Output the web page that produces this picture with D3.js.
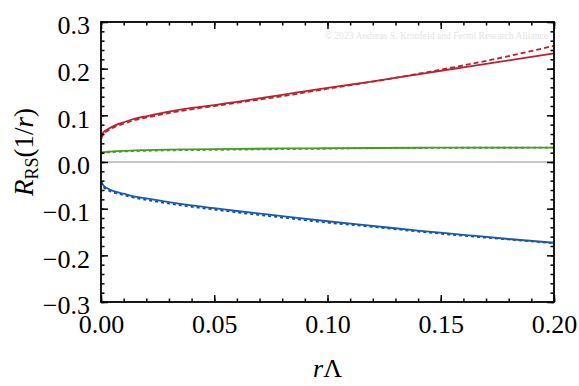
<!DOCTYPE html>
<html>
<head>
<meta charset="utf-8">
<script src="https://cdn.jsdelivr.net/npm/d3@7"></script>
<style>
  body { margin: 0; background: #fff; }
  svg text { font-family: "Liberation Serif", "DejaVu Serif", serif; }
</style>
</head>
<body>
<div id="chart"></div>
<script>
const W = 579, H = 386;
const margin = { top: 22, right: 25, bottom: 84, left: 101 },
  width = W - margin.left - margin.right,
  height = H - margin.top - margin.bottom;

// r*Lambda sample points
const rVals = [0, 0.001, 0.003, 0.006, 0.01, 0.015, 0.02, 0.03, 0.04, 0.05, 0.06, 0.08, 0.10, 0.12, 0.14, 0.16, 0.18, 0.20];

const redSolid = [0.052, 0.063, 0.070, 0.078, 0.085, 0.093, 0.098, 0.108, 0.116, 0.122, 0.129, 0.144, 0.159, 0.173, 0.188, 0.203, 0.218, 0.233];
const redDash = [0.049, 0.060, 0.067, 0.075, 0.082, 0.090, 0.095, 0.105, 0.113, 0.120, 0.127, 0.141, 0.157, 0.172, 0.189, 0.207, 0.227, 0.249];

const greenSolid = [0.019, 0.021, 0.022, 0.023, 0.024, 0.025, 0.0255, 0.0265, 0.027, 0.0275, 0.028, 0.029, 0.0295, 0.030, 0.0305, 0.031, 0.031, 0.031];
const greenDash = [0.018, 0.0195, 0.0205, 0.0215, 0.0225, 0.0235, 0.024, 0.025, 0.0255, 0.026, 0.0265, 0.0275, 0.0285, 0.0295, 0.030, 0.0305, 0.0305, 0.031];

const blueSolid = [-0.040, -0.050, -0.057, -0.063, -0.068, -0.074, -0.078, -0.086, -0.093, -0.099, -0.105, -0.116, -0.127, -0.137, -0.147, -0.156, -0.165, -0.173];
const blueDash = [-0.042, -0.053, -0.060, -0.066, -0.071, -0.077, -0.081, -0.089, -0.096, -0.102, -0.108, -0.119, -0.130, -0.139, -0.149, -0.158, -0.166, -0.174];

const xTicks = [0, 0.05, 0.10, 0.15, 0.20];
const yTicks = [-0.3, -0.2, -0.1, 0.0, 0.1, 0.2, 0.3];

const svg = d3.select("#chart").append("svg")
  .attr("width", W).attr("height", H);

const g = svg.append("g")
  .attr("transform", `translate(${margin.left}, ${margin.top})`);

const x = d3.scaleLinear().domain([0, 0.2]).range([0, width]);
const y = d3.scaleLinear().domain([-0.3, 0.3]).range([height, 0]);

// watermark
g.append("text")
  .attr("x", width - 6).attr("y", 17)
  .attr("text-anchor", "end")
  .style("font-size", "9.6px")
  .attr("fill", "#e4e4e4")
  .text("© 2023 Andreas S. Kronfeld and Fermi Research Alliance");

// zero line
g.append("line")
  .attr("x1", 0).attr("x2", width)
  .attr("y1", y(0)).attr("y2", y(0))
  .attr("stroke", "#b4b4b4").attr("stroke-width", 1.3);

const line = (vals) => d3.line()
  .x((d, i) => x(rVals[i]))
  .y((d) => y(d))
  .curve(d3.curveMonotoneX)(vals);

const series = [
  { vals: redDash, color: "#b8232f", dash: "5,3" },
  { vals: redSolid, color: "#b8232f", dash: null },
  { vals: greenDash, color: "#4a9a26", dash: "3,3" },
  { vals: greenSolid, color: "#4a9a26", dash: null },
  { vals: blueDash, color: "#0f4f9e", dash: "3,3" },
  { vals: blueSolid, color: "#1a5aa8", dash: null },
];

g.selectAll("path.curve")
  .data(series)
  .join("path")
  .attr("class", "curve")
  .attr("d", (d) => line(d.vals))
  .attr("fill", "none")
  .attr("stroke", (d) => d.color)
  .attr("stroke-width", 1.8)
  .attr("stroke-dasharray", (d) => d.dash);

// ticks on all sides, pointing inward
const xMinor = d3.range(0, 0.2001, 0.01);
const yMinor = d3.range(-0.3, 0.3001, 0.02);

const tickStyle = (sel) => {
  sel.attr("font-family", null).attr("font-size", null);
  sel.select(".domain").remove();
  sel.selectAll(".tick line").attr("stroke", "#000").attr("stroke-width", 1.5);
};

g.append("g").attr("transform", `translate(0,${height})`)
  .call(d3.axisBottom(x).tickValues(xMinor).tickSize(-3.5).tickFormat(""))
  .call(tickStyle);
g.append("g")
  .call(d3.axisTop(x).tickValues(xMinor).tickSize(-3.5).tickFormat(""))
  .call(tickStyle);
g.append("g")
  .call(d3.axisLeft(y).tickValues(yMinor).tickSize(-3.5).tickFormat(""))
  .call(tickStyle);
g.append("g").attr("transform", `translate(${width},0)`)
  .call(d3.axisRight(y).tickValues(yMinor).tickSize(-3.5).tickFormat(""))
  .call(tickStyle);

const xAxis = g.append("g").attr("transform", `translate(0,${height})`)
  .call(d3.axisBottom(x).tickValues(xTicks).tickSize(-7).tickPadding(13).tickFormat(d3.format(".2f")))
  .call(tickStyle);
g.append("g")
  .call(d3.axisTop(x).tickValues(xTicks).tickSize(-7).tickFormat(""))
  .call(tickStyle);
const yAxis = g.append("g")
  .call(d3.axisLeft(y).tickValues(yTicks).tickSize(-7).tickPadding(11).tickFormat(d3.format(".1f")))
  .call(tickStyle);
g.append("g").attr("transform", `translate(${width},0)`)
  .call(d3.axisRight(y).tickValues(yTicks).tickSize(-7).tickFormat(""))
  .call(tickStyle);

[xAxis, yAxis].forEach((a) => a.selectAll(".tick text")
  .style("font-size", "26px")
  .attr("fill", "#000"));
yAxis.selectAll(".tick text").attr("dy", "0.45em");

// frame
g.append("rect")
  .attr("width", width).attr("height", height)
  .attr("fill", "none").attr("stroke", "#000").attr("stroke-width", 1.8);

// axis titles
const xt = svg.append("text")
  .attr("x", margin.left + width / 2).attr("y", 377)
  .attr("text-anchor", "middle")
  .style("font-size", "26px");
xt.append("tspan").attr("font-style", "italic").text("r");
xt.append("tspan").text("Λ");

const yt = svg.append("text")
  .attr("transform", `translate(33, ${margin.top + height / 2 - 10}) rotate(-90)`)
  .attr("text-anchor", "middle")
  .style("font-size", "27px");
yt.append("tspan").attr("font-style", "italic").text("R");
yt.append("tspan").style("font-size", "18px").attr("dy", 5).text("RS");
yt.append("tspan").attr("dy", -5).text("(1/");
yt.append("tspan").attr("font-style", "italic").text("r");
yt.append("tspan").text(")");
</script>
</body>
</html>
